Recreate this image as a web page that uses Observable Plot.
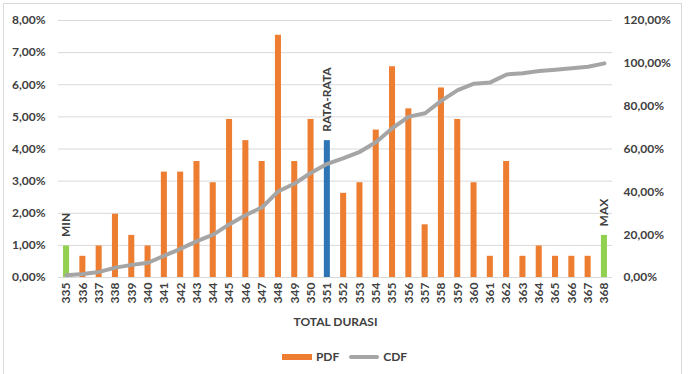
<!DOCTYPE html>
<html><head><meta charset="utf-8">
<script src="https://cdn.jsdelivr.net/npm/d3@7"></script>
<script src="https://cdn.jsdelivr.net/npm/@observablehq/plot@0.6"></script>
<style>
html,body{margin:0;padding:0;background:#fff;}
body{font-family:Lato,"Open Sans",sans-serif;width:689px;height:374px;overflow:hidden;position:relative;}
#frame{position:absolute;left:3px;top:3px;width:677px;height:380px;border:1px solid #d9d9d9;pointer-events:none;}
#chart{position:absolute;left:0;top:0;}
#legend{position:absolute;left:0;top:349px;width:689px;display:flex;justify-content:center;align-items:center;font-weight:bold;font-size:12px;color:#404040;}
.item{display:flex;align-items:center;margin:0 5px;}
.sw{display:inline-block;width:30px;margin-right:4px;}
</style></head><body>
<div id="chart"></div>
<div id="legend">
  <span class="item"><span class="sw" style="height:6px;background:#ED7D31"></span>PDF</span>
  <span class="item"><span class="sw" style="height:4px;background:#A5A5A5;border-radius:2px"></span>CDF</span>
</div>
<div id="frame"></div>
<script>
const categories = ["335","336","337","338","339","340","341","342","343","344","345","346","347","348","349","350","351","352","353","354","355","356","357","358","359","360","361","362","363","364","365","366","367","368"];
const pdf = [0.98,0.66,0.98,1.97,1.31,0.98,3.28,3.28,3.61,2.95,4.92,4.26,3.61,7.54,3.61,4.92,4.26,2.62,2.95,4.59,6.56,5.25,1.64,5.90,4.92,2.95,0.66,3.61,0.66,0.98,0.66,0.66,0.66,1.31];
const cdf = [1.0,1.6,2.6,4.6,5.9,6.9,10.2,13.4,17.0,20.0,24.9,29.2,32.8,40.3,43.9,48.9,53.1,55.7,58.7,63.3,69.8,75.1,76.7,82.6,87.5,90.5,91.1,94.8,95.4,96.4,97.0,97.7,98.4,100.0];
const leftTicks = [0,1,2,3,4,5,6,7,8];
const rightTicks = [0,20,40,60,80,100,120];
const annotCats = ["335","351","368"];
const annotTexts = ["MIN","RATA-RATA","MAX"];
const minMaxCats = ["335","368"];
const meanCat = "351";

const data = categories.map((c,i)=>({cat:c, pdf:pdf[i], cdf:cdf[i]}));
const annots = annotCats.map((c,i)=>({cat:c, label:annotTexts[i], v:pdf[categories.indexOf(c)]}));
const ratio = 8/120;
const fmt = v => v.toFixed(2).replace(".", ",") + "%";

const chart = Plot.plot({
  width: 689, height: 340,
  marginTop: 20, marginBottom: 63, marginLeft: 58, marginRight: 77,
  style: {fontFamily: "Lato, 'Open Sans', sans-serif", fontSize: "12px", fontWeight: "bold", color: "#404040", background: "transparent"},
  x: {type: "band", domain: categories, padding: 0.63, paddingOuter: 0.31, round: false},
  y: {domain: [0, 8]},
  marks: [
    Plot.gridY(leftTicks, {stroke: "#d9d9d9", strokeOpacity: 1, strokeWidth: 1}),
    Plot.barY(data, {x: "cat", y: "pdf", fill: d => minMaxCats.includes(d.cat) ? "#92D050" : d.cat === meanCat ? "#2E75B6" : "#ED7D31"}),
    Plot.lineY(data, {x: "cat", y: d => d.cdf * ratio, stroke: "#A5A5A5", strokeWidth: 4, strokeLinejoin: "round", strokeLinecap: "round"}),
    Plot.text(annots, {x: "cat", y: "v", text: "label", rotate: -90, textAnchor: "start", dy: -9, fontWeight: "bold", fontSize: 12, fill: "#404040"}),
    Plot.axisY(leftTicks, {anchor: "left", tickSize: 0, tickPadding: 13, tickFormat: fmt, label: null}),
    Plot.axisY(rightTicks.map(v => v * ratio), {anchor: "right", tickSize: 0, tickPadding: 11, tickFormat: d => fmt(d / ratio), label: null}),
    Plot.axisX({tickRotate: -90, tickSize: 0, tickPadding: 5, label: "TOTAL DURASI", labelAnchor: "center", labelOffset: 48})
  ]
});
document.getElementById("chart").appendChild(chart);
</script>
</body></html>
